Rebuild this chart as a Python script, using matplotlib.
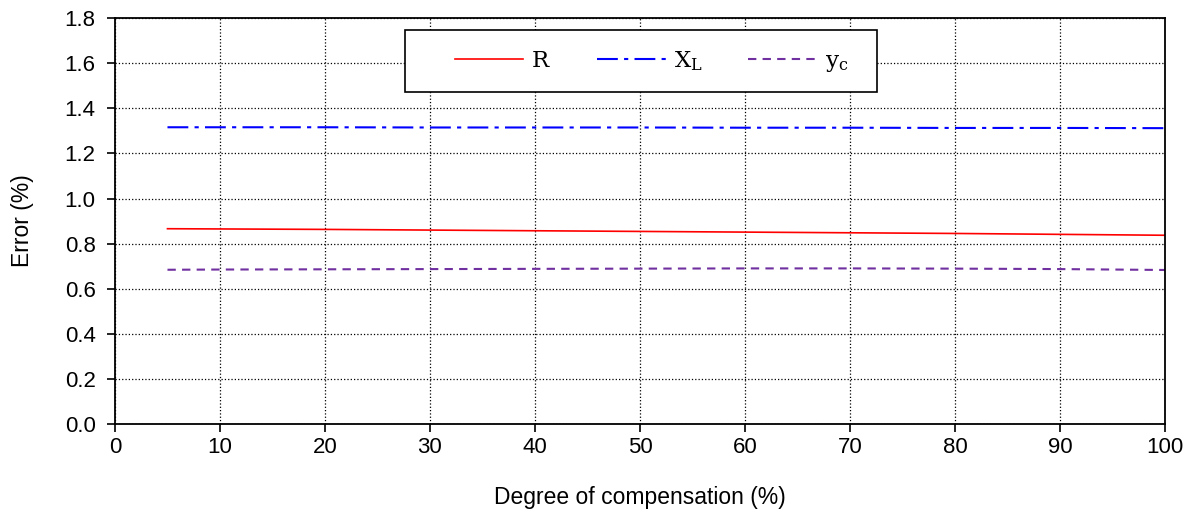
import matplotlib.pyplot as plt
from matplotlib.patches import Rectangle

# Values
degree = [5, 10, 20, 30, 40, 50, 60, 70, 80, 90, 100]
err_R = [0.866, 0.865, 0.863, 0.860, 0.857, 0.854, 0.851, 0.848, 0.845, 0.841, 0.837]
err_XL = [1.316, 1.316, 1.316, 1.315, 1.315, 1.315, 1.314, 1.314, 1.313, 1.313, 1.312]
err_yc = [0.684, 0.685, 0.686, 0.687, 0.688, 0.689, 0.690, 0.690, 0.689, 0.687, 0.683]

plt.rcParams['font.family'] = 'Liberation Sans'
plt.rcParams['mathtext.fontset'] = 'custom'
plt.rcParams['mathtext.rm'] = 'DejaVu Serif'
plt.rcParams['mathtext.it'] = 'DejaVu Serif'

fig = plt.figure(figsize=(11.94, 5.18), dpi=100)
ax = fig.add_axes([0.0963, 0.1815, 0.8794, 0.7835])

ax.plot(degree, err_R, color='red', linewidth=1.2, label=r'$\mathrm{R}$')
ax.plot(degree, err_XL, color='blue', linewidth=1.5, dashes=[10, 3, 2, 3],
        label=r'$\mathrm{X_L}$')
ax.plot(degree, err_yc, color='#7030A0', linewidth=1.5, dashes=[4, 3],
        label=r'$\mathrm{y_c}$')

ax.set_xlim(0, 100)
ax.set_ylim(0, 1.8)
ax.set_xticks(range(0, 101, 10))
ax.set_yticks([i * 0.2 for i in range(10)])
ax.set_yticklabels([f"{i * 0.2:.1f}" for i in range(10)])
ax.tick_params(labelsize=16, direction='out', length=6, width=1.2)
ax.tick_params(axis='y', pad=8)
ax.grid(True, color='black', linestyle=':', linewidth=0.9)
for s in ax.spines.values():
    s.set_linewidth(1.3)

ax.set_xlabel("Degree of compensation (%)", fontsize=16.5, labelpad=20)
ax.set_ylabel("Error (%)", fontsize=16.5, labelpad=22)

# legend box drawn separately so it can be wider than its contents
box = Rectangle((0.276, 0.818), 0.4495, 0.152, transform=ax.transAxes,
                facecolor='white', edgecolor='black', linewidth=1.2, zorder=4)
ax.add_patch(box)
leg = ax.legend(loc='center', bbox_to_anchor=(0.511, 0.893), ncol=3,
                fontsize=16.5, frameon=False, handlelength=3.0,
                handletextpad=0.35, columnspacing=2.0)
leg.set_zorder(5)

fig.savefig("out.png", dpi=100)
